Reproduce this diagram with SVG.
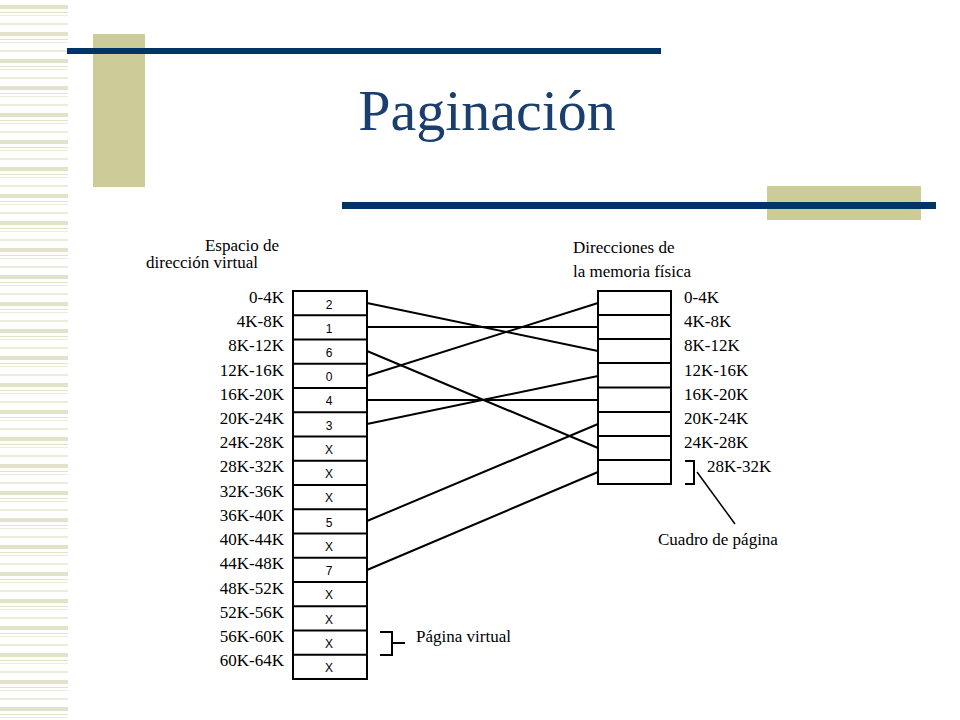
<svg xmlns="http://www.w3.org/2000/svg" width="960" height="720" viewBox="0 0 960 720">
<defs>
<pattern id="stripes" x="0" y="0" width="68" height="27" patternUnits="userSpaceOnUse">
<rect x="0" y="5" width="68" height="4" fill="#e3e3cc"/>
<rect x="0" y="12" width="68" height="1" fill="#e3e3cc"/>
<rect x="0" y="15" width="68" height="1" fill="#ececda"/>
<rect x="0" y="23" width="68" height="2" fill="#ececda"/>
</pattern>
</defs>
<style>
.ser{font-family:'Liberation Serif','Times New Roman','DejaVu Serif',serif}
.lbl{font-family:'Liberation Serif','Times New Roman','DejaVu Serif',serif;font-size:17px;fill:#000}
.num{font-family:'Liberation Sans',Arial,sans-serif;font-size:12px;fill:#000;text-anchor:middle}
.cell{fill:#fff;stroke:#000;stroke-width:2}
.conn line{stroke:#000;stroke-width:2}
</style>
<rect width="960" height="720" fill="#fff"/>
<rect x="0" y="0" width="68" height="720" fill="url(#stripes)"/>
<rect x="93" y="34" width="52" height="153" fill="#cccc99"/>
<rect x="67" y="48" width="594" height="6" fill="#003366"/>
<rect x="767" y="186" width="154" height="34" fill="#cccc99"/>
<rect x="342" y="202" width="594" height="7" fill="#003366"/>
<text x="487" y="130" text-anchor="middle" class="ser" font-size="58" fill="#1a3f6f">Paginación</text>

<g id="virtual">
<text x="242" y="251" text-anchor="middle" class="lbl" font-size="16">Espacio de</text>
<text x="202" y="268" text-anchor="middle" class="lbl" font-size="16">dirección virtual</text>
<g class="lbl" text-anchor="end">
<text x="284" y="303">0-4K</text><text x="284" y="327">4K-8K</text><text x="284" y="351">8K-12K</text><text x="284" y="376">12K-16K</text>
<text x="284" y="400">16K-20K</text><text x="284" y="424">20K-24K</text><text x="284" y="448">24K-28K</text><text x="284" y="472">28K-32K</text>
<text x="284" y="497">32K-36K</text><text x="284" y="521">36K-40K</text><text x="284" y="545">40K-44K</text><text x="284" y="569">44K-48K</text>
<text x="284" y="594">48K-52K</text><text x="284" y="618">52K-56K</text><text x="284" y="642">56K-60K</text><text x="284" y="666">60K-64K</text>
</g>
<rect class="cell" x="293" y="291" width="74" height="388"/>
<g stroke="#000" stroke-width="2">
<line x1="293" y1="315.25" x2="367" y2="315.25"/><line x1="293" y1="339.5" x2="367" y2="339.5"/><line x1="293" y1="363.75" x2="367" y2="363.75"/>
<line x1="293" y1="388" x2="367" y2="388"/><line x1="293" y1="412.25" x2="367" y2="412.25"/><line x1="293" y1="436.5" x2="367" y2="436.5"/>
<line x1="293" y1="460.75" x2="367" y2="460.75"/><line x1="293" y1="485" x2="367" y2="485"/><line x1="293" y1="509.25" x2="367" y2="509.25"/>
<line x1="293" y1="533.5" x2="367" y2="533.5"/><line x1="293" y1="557.75" x2="367" y2="557.75"/><line x1="293" y1="582" x2="367" y2="582"/>
<line x1="293" y1="606.25" x2="367" y2="606.25"/><line x1="293" y1="630.5" x2="367" y2="630.5"/><line x1="293" y1="654.75" x2="367" y2="654.75"/>
</g>
<g class="num">
<text x="329" y="309">2</text><text x="329" y="333">1</text><text x="329" y="357">6</text><text x="329" y="381">0</text>
<text x="329" y="405">4</text><text x="329" y="430">3</text><text x="329" y="454">X</text><text x="329" y="478">X</text>
<text x="329" y="502">X</text><text x="329" y="527">5</text><text x="329" y="551">X</text><text x="329" y="575">7</text>
<text x="329" y="599">X</text><text x="329" y="624">X</text><text x="329" y="648">X</text><text x="329" y="672">X</text>
</g>
</g>

<g id="physical">
<text x="573" y="253" class="lbl">Direcciones de</text>
<text x="573" y="277" class="lbl">la memoria física</text>
<rect class="cell" x="598" y="291" width="73" height="193"/>
<g stroke="#000" stroke-width="2">
<line x1="598" y1="315" x2="671" y2="315"/><line x1="598" y1="339" x2="671" y2="339"/><line x1="598" y1="363" x2="671" y2="363"/>
<line x1="598" y1="387.5" x2="671" y2="387.5"/><line x1="598" y1="412" x2="671" y2="412"/><line x1="598" y1="436" x2="671" y2="436"/>
<line x1="598" y1="460" x2="671" y2="460"/>
</g>
<g class="lbl">
<text x="684" y="303">0-4K</text><text x="684" y="327">4K-8K</text><text x="684" y="351">8K-12K</text><text x="684" y="376">12K-16K</text>
<text x="684" y="400">16K-20K</text><text x="684" y="424">20K-24K</text><text x="684" y="448">24K-28K</text><text x="707" y="472">28K-32K</text>
</g>
</g>

<g id="frame-label">
<path d="M685 461 H694 V484 H685" fill="none" stroke="#000" stroke-width="2"/>
<line x1="697" y1="472" x2="735" y2="524" stroke="#000" stroke-width="1.5"/>
<text x="658" y="545" class="lbl" font-size="15">Cuadro de página</text>
</g>

<g id="page-label">
<path d="M380 632 H392 V655 H380 M392 643 H405" fill="none" stroke="#000" stroke-width="2"/>
<text x="416" y="642" class="lbl" font-size="16">Página virtual</text>
</g>

<g class="conn">
<line x1="367" y1="303" x2="598" y2="351"/>
<line x1="367" y1="327" x2="598" y2="327"/>
<line x1="367" y1="351" x2="598" y2="448"/>
<line x1="367" y1="376" x2="598" y2="303"/>
<line x1="367" y1="400" x2="598" y2="400"/>
<line x1="367" y1="424" x2="598" y2="376"/>
<line x1="367" y1="521" x2="598" y2="424"/>
<line x1="367" y1="570" x2="598" y2="472"/>
</g>
</svg>
